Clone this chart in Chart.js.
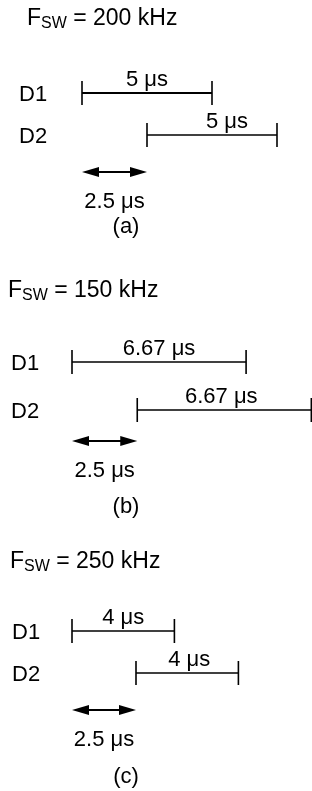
<!DOCTYPE html>
<html lang="en">
<head>
<meta charset="UTF-8">
<title>Interleaved phases vs switching frequency</title>
<script src="https://cdn.jsdelivr.net/npm/chart.js"></script>
<style>
  html, body { margin: 0; padding: 0; background: #fff; overflow: hidden; }
  canvas { display: block; }
</style>
</head>
<body>
<canvas id="chartA" width="312" height="260"></canvas>
<canvas id="chartB" width="312" height="270"></canvas>
<canvas id="chartC" width="312" height="261"></canvas>
<script>
// chart data
const panelTags = ['(a)', '(b)', '(c)'];
const switchFreqKHz = [200, 150, 250];
const onTimeUs = [5, 6.67, 4];          // length of the D1 / D2 interval
const phaseShiftUs = [2.5, 2.5, 2.5];   // D2 starts this much after D1
const laneLabels = ['D1', 'D2'];

// per panel layout (pixels)
const layout = [
  { id: 'chartA', x0: 82, pxPerUs: 26,   d1: 93,  gap: 42, arrowDy: 37, titleX: 27, titleY: 25, laneX: 19, tagY: 227, d1Width: 2.2, d2LabelDx: 15 },
  { id: 'chartB', x0: 72, pxPerUs: 26.1, d1: 102, gap: 48, arrowDy: 31, titleX: 8,  titleY: 37, laneX: 11, tagY: 247, d1Width: 1.6, d2LabelDx: -3 },
  { id: 'chartC', x0: 72, pxPerUs: 25.6, d1: 101, gap: 42, arrowDy: 37, titleX: 10, titleY: 38, laneX: 12, tagY: 247, d1Width: 1.6, d2LabelDx: 2 }
];

const FONT = "'Liberation Sans', Arial, sans-serif";

function fmt(v) { return String(v); }

// arrow + text, placed with the chart scales
const annotate = {
  id: 'annotate',
  afterDraw(chart, args, opts) {
    const ctx = chart.ctx;
    const xs = chart.scales.x, ys = chart.scales.y;
    const i = opts.index, L = layout[i];
    ctx.save();
    ctx.fillStyle = '#000';
    ctx.strokeStyle = '#000';

    // title F_SW = ... kHz
    ctx.textBaseline = 'alphabetic';
    ctx.textAlign = 'left';
    let tx = L.titleX;
    ctx.font = '23px ' + FONT;
    ctx.fillText('F', tx, L.titleY);
    tx += ctx.measureText('F').width;
    ctx.font = '16px ' + FONT;
    ctx.fillText('SW', tx, L.titleY + 3);
    tx += ctx.measureText('SW').width;
    ctx.font = '23px ' + FONT;
    ctx.fillText(' = ' + switchFreqKHz[i] + ' kHz', tx, L.titleY);

    // lane names
    ctx.font = '22px ' + FONT;
    laneLabels.forEach((name, k) => {
      ctx.fillText(name, L.laneX, ys.getPixelForValue(k + 1) + 8);
    });

    // interval labels over the bars
    ctx.textAlign = 'center';
    const starts = [0, phaseShiftUs[i]];
    starts.forEach((s, k) => {
      const cx = (xs.getPixelForValue(s) + xs.getPixelForValue(s + onTimeUs[i])) / 2 + (k ? L.d2LabelDx : 0);
      ctx.fillText(fmt(onTimeUs[i]) + ' \u03bcs', cx, ys.getPixelForValue(k + 1) - 7);
    });

    // phase shift arrow
    const ay = ys.getPixelForValue(2) + L.arrowDy;
    const ax1 = xs.getPixelForValue(0), ax2 = xs.getPixelForValue(phaseShiftUs[i]);
    const head = 17, half = 5;
    ctx.lineWidth = 2;
    ctx.beginPath();
    ctx.moveTo(ax1 + head - 2, ay);
    ctx.lineTo(ax2 - head + 2, ay);
    ctx.stroke();
    ctx.beginPath();
    ctx.moveTo(ax1, ay);
    ctx.lineTo(ax1 + head, ay - half);
    ctx.lineTo(ax1 + head, ay + half);
    ctx.closePath();
    ctx.fill();
    ctx.beginPath();
    ctx.moveTo(ax2, ay);
    ctx.lineTo(ax2 - head, ay - half);
    ctx.lineTo(ax2 - head, ay + half);
    ctx.closePath();
    ctx.fill();
    ctx.textBaseline = 'middle';
    ctx.fillText(fmt(phaseShiftUs[i]) + ' \u03bcs', (ax1 + ax2) / 2, ay + 30);

    // panel tag
    ctx.fillText(panelTags[i], 126, L.tagY);
    ctx.restore();
  }
};

function segment(start, len, lane, width) {
  return {
    data: [{ x: start, y: lane }, { x: start + len, y: lane }],
    borderColor: '#000',
    borderWidth: width,
    showLine: true,
    fill: false,
    pointStyle: 'line',
    pointRotation: 90,
    pointRadius: 12,
    pointBorderWidth: 1.6,
    pointBorderColor: '#000',
    pointBackgroundColor: '#000',
    clip: false
  };
}

layout.forEach((L, i) => {
  const canvas = document.getElementById(L.id);
  const xMin = -L.x0 / L.pxPerUs;
  const xMax = xMin + canvas.width / L.pxPerUs;
  const yMin = 1 - L.d1 / L.gap;
  const yMax = yMin + canvas.height / L.gap;
  new Chart(canvas, {
    type: 'line',
    data: {
      datasets: [
        segment(0, onTimeUs[i], 1, L.d1Width),
        segment(phaseShiftUs[i], onTimeUs[i], 2, 1.6)
      ]
    },
    options: {
      responsive: false,
      animation: false,
      events: [],
      layout: { padding: 0, autoPadding: false },
      plugins: {
        legend: { display: false },
        tooltip: { enabled: false },
        annotate: { index: i }
      },
      scales: {
        x: { type: 'linear', display: false, min: xMin, max: xMax },
        y: { type: 'linear', display: false, reverse: true, min: yMin, max: yMax }
      }
    },
    plugins: [annotate]
  });
});
</script>
</body>
</html>
